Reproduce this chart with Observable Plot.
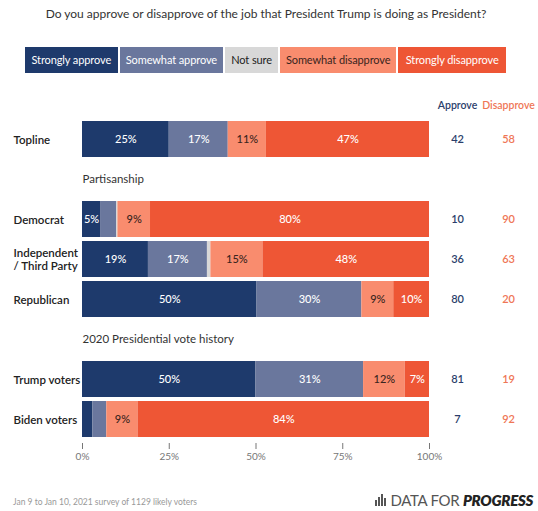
<!DOCTYPE html>
<html>
<head>
<meta charset="utf-8">
<script src="https://cdn.jsdelivr.net/npm/d3@7"></script>
<script src="https://cdn.jsdelivr.net/npm/@observablehq/plot@0.6"></script>
<style>
  html, body { margin: 0; padding: 0; background: #fff; }
  body { width: 538px; height: 511px; position: relative; overflow: hidden; font-family: Lato, "Open Sans", sans-serif; }
  #title { position: absolute; top: 6px; left: 0; width: 532px; text-align: center; font-size: 12px; color: #333; }
  #legend { position: absolute; top: 47px; left: 25px; width: 481px; display: flex; gap: 2px; }
  #legend div { height: 26px; line-height: 26px; font-size: 11px; text-align: center; white-space: nowrap; letter-spacing: -0.1px; }
  #chart { position: absolute; top: 85px; left: 0; }
  #footer { position: absolute; top: 497px; left: 13px; font-size: 8.5px; color: #999; }
  #logo { position: absolute; top: 491px; right: 5px; font-size: 15px; color: #555; display: flex; align-items: flex-end; gap: 4px; letter-spacing: -0.3px; }
  #logo b { color: #222; font-style: italic; font-weight: 800; }
  #logo .ic { display: flex; align-items: flex-end; gap: 1px; height: 13px; margin-bottom: 3px; }
  #logo .ic span { width: 2px; background: #555; display: block; }
</style>
</head>
<body>
<div id="title">Do you approve or disapprove of the job that President Trump is doing as President?</div>
<div id="legend"></div>
<div id="chart"></div>
<div id="footer">Jan 9 to Jan 10, 2021 survey of 1129 likely voters</div>
<div id="logo"><span class="ic"><span style="height:6px"></span><span style="height:9px"></span><span style="height:12px"></span><span style="height:8px"></span></span><span>DATA FOR <b>PROGRESS</b></span></div>
<script>
// ---- data ----
const categories = ["Strongly approve", "Somewhat approve", "Not sure", "Somewhat disapprove", "Strongly disapprove"];
const colors = ["#1e3a6c", "#6a779d", "#d8d8d8", "#f98c6e", "#ee5635"];
const legendText = ["#ffffff", "#ffffff", "#222222", "#3a2520", "#ffffff"];
const legendWidths = [93, 104, 53, 117, 108];

const rows = ["Topline", "Democrat", "Independent\n/ Third Party", "Republican", "Trump voters", "Biden voters"];
const sections = ["Partisanship", "2020 Presidential vote history"];
const yOrder = ["Topline", "Partisanship", "Democrat", "Independent\n/ Third Party", "Republican", "2020 Presidential vote history", "Trump voters", "Biden voters"];

const stronglyApprove    = [25, 5.2, 19, 50.3, 50, 3];
const somewhatApprove    = [17, 4.6, 17, 30.2, 31, 4];
const notSure            = [0, 0.4, 1, 0, 0, 0];
const somewhatDisapprove = [11, 9.4, 15, 9.2, 12, 9];
const stronglyDisapprove = [47, 80.4, 48, 10.3, 7, 84];
const approveTotal    = [42, 10, 36, 80, 81, 7];
const disapproveTotal = [58, 90, 63, 20, 19, 92];

const xTicks = [0, 25, 50, 75, 100];

// ---- build tables ----
const series = [stronglyApprove, somewhatApprove, notSure, somewhatDisapprove, stronglyDisapprove];
const data = [];
rows.forEach((r, i) => {
  categories.forEach((c, j) => {
    data.push({row: r, category: c, value: series[j][i]});
  });
});
const totals = rows.map((r, i) => ({row: r, approve: approveTotal[i], disapprove: disapproveTotal[i]}));
const darkCats = new Set(["Strongly approve", "Somewhat approve", "Strongly disapprove"]);
const lbl = d => d.value >= 5 ? Math.round(d.value) + "%" : "";

// ---- legend ----
const legend = document.getElementById("legend");
categories.forEach((c, i) => {
  const el = document.createElement("div");
  el.textContent = c;
  el.style.background = colors[i];
  el.style.color = legendText[i];
  el.style.width = legendWidths[i] + "px";
  legend.appendChild(el);
});

// ---- chart ----
const chart = Plot.plot({
  width: 538,
  height: 388,
  marginLeft: 82,
  marginRight: 109,
  marginTop: 29,
  marginBottom: 30,
  style: {fontFamily: "Lato, 'Open Sans', sans-serif", fontSize: "10px", color: "#777", background: "#fff"},
  x: {domain: [0, 100], ticks: xTicks, tickFormat: d => d + "%", tickSize: 6, label: null},
  y: {domain: yOrder, axis: null, paddingInner: 0.11, paddingOuter: 0.11},
  color: {domain: categories, range: colors},
  marks: [
    Plot.barX(data, {x: "value", y: "row", fill: "category"}),
    Plot.text(data, Plot.stackX({x: "value", y: "row", z: "category",
      text: d => darkCats.has(d.category) ? lbl(d) : "", fill: "#ffffff", fontSize: 11, fontWeight: 500})),
    Plot.text(data, Plot.stackX({x: "value", y: "row", z: "category",
      text: d => darkCats.has(d.category) ? "" : lbl(d), fill: "#3a2520", fontSize: 11, fontWeight: 500})),
    Plot.text(rows, {y: d => d, text: d => d, frameAnchor: "left", textAnchor: "start", dx: -69,
      fill: "#222", fontSize: 11.5, fontWeight: 600, lineHeight: 1.15}),
    Plot.text(sections, {y: d => d, text: d => d, frameAnchor: "left", textAnchor: "start", dx: 0,
      fill: "#333", fontSize: 11.5}),
    Plot.text(totals, {y: "row", text: "approve", frameAnchor: "right", textAnchor: "middle", dx: 28, fill: "#2b3e6b", fontSize: 11, fontWeight: 600}),
    Plot.text(totals, {y: "row", text: "disapprove", frameAnchor: "right", textAnchor: "middle", dx: 79, fill: "#ef7656", fontSize: 11, fontWeight: 600}),
    Plot.text(["Approve"], {text: d => d, frameAnchor: "top-right", textAnchor: "middle", dx: 28, dy: -13, fill: "#2b3e6b", fontSize: 10.5, fontWeight: 600}),
    Plot.text(["Disapprove"], {text: d => d, frameAnchor: "top-right", textAnchor: "middle", dx: 79, dy: -13, fill: "#ef7656", fontSize: 10.5, fontWeight: 600})
  ]
});
document.getElementById("chart").appendChild(chart);
</script>
</body>
</html>
